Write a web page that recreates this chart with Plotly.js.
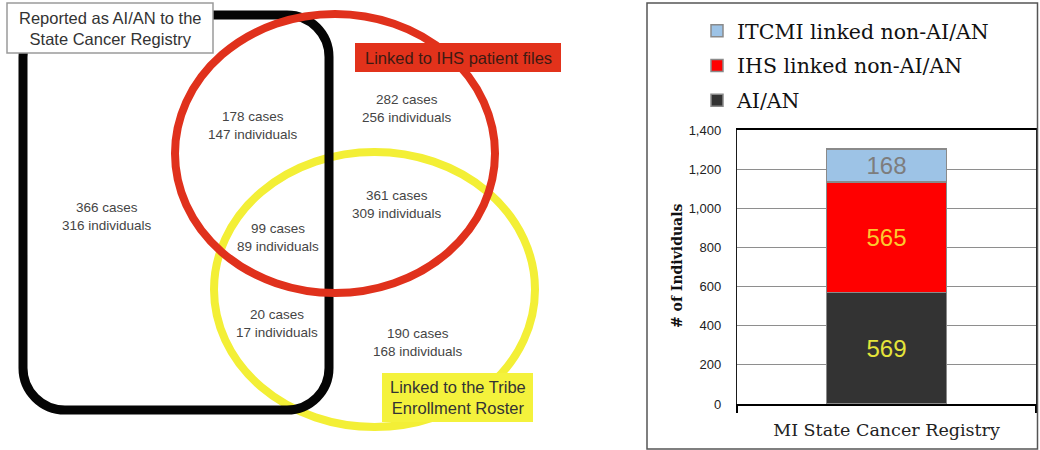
<!DOCTYPE html>
<html>
<head>
<meta charset="utf-8">
<script src="https://cdn.plot.ly/plotly-3.0.1.min.js"></script>
<style>
  html, body { margin: 0; padding: 0; background: #ffffff; }
  #chart { width: 1040px; height: 450px; }
</style>
</head>
<body>
<div id="chart"></div>
<script>
// ---- Stacked bar: individuals in the MI State Cancer Registry ----
const barCategory = ['MI State Cancer Registry'];
const seriesNames = ['AI/AN', 'IHS linked non-AI/AN', 'ITCMI linked non-AI/AN'];
const aianValues = [569];
const ihsValues = [565];
const itcmiValues = [168];
const yTickValues = [0, 200, 400, 600, 800, 1000, 1200, 1400];

// ---- Venn regions: cases and individuals per overlap ----
const regionCases = [366, 178, 282, 99, 361, 20, 190];
const regionIndividuals = [316, 147, 256, 89, 309, 17, 168];
const setLabels = [
  'Reported as AI/AN to the<br>State Cancer Registry',
  'Linked to IHS patient files',
  'Linked to the Tribe<br>Enrollment Roster'
];

// Layout helpers: page pixels -> paper fractions (margins are zero)
const W = 1040, H = 450;
const px = x => x / W;
const py = y => 1 - y / H;

// Where each region's label sits inside the diagram (diagram pixel units)
const regionAnchors = [[107, 216], [253, 125], [407, 108], [278, 237], [397, 204], [277, 323], [418, 342]];

const serif = 'DejaVu Serif, serif';
const sans = 'Liberation Sans, Arial, sans-serif';

const barStyles = [
  { fill: '#333333', text: '#e4e43a' },
  { fill: '#ff0000', text: '#fbc92e' },
  { fill: '#9dc3e6', text: '#7d7d7d' }
];
const barValues = [aianValues, ihsValues, itcmiValues];

const traces = barValues.map((vals, i) => ({
  type: 'bar',
  name: seriesNames[i],
  legendgroup: 'g' + i,
  legendrank: 10 - i,          // top segment listed first
  x: barCategory,
  y: vals,
  width: 0.4,
  marker: { color: barStyles[i].fill, line: { color: '#8a8a8a', width: 1.5 } },
  texttemplate: '%{y}',
  textposition: 'inside',
  insidetextanchor: 'middle',
  constraintext: 'none',
  textfont: { family: sans, size: 24, color: barStyles[i].text },
  hoverinfo: 'skip',
  xaxis: 'x',
  yaxis: 'y'
}));

// Invisible anchor trace so the diagram subplot exists
traces.push({
  type: 'scatter', mode: 'markers', x: [0], y: [0],
  marker: { opacity: 0 }, showlegend: false, hoverinfo: 'skip',
  xaxis: 'x2', yaxis: 'y2'
});

// Rounded registry box as a cubic-bezier path
function roundedRect(x0, y0, x1, y1, r) {
  const k = 0.5523 * r;
  return [
    'M', x0 + r, y0,
    'L', x1 - r, y0,
    'C', x1 - r + k, y0, x1, y0 + r - k, x1, y0 + r,
    'L', x1, y1 - r,
    'C', x1, y1 - r + k, x1 - r + k, y1, x1 - r, y1,
    'L', x0 + r, y1,
    'C', x0 + r - k, y1, x0, y1 - r + k, x0, y1 - r,
    'L', x0, y0 + r,
    'C', x0, y0 + r - k, x0 + r - k, y0, x0 + r, y0,
    'Z'
  ].join(' ');
}

const d = { xref: 'x2', yref: 'y2' };
const shapes = [
  Object.assign({ type: 'circle', x0: 214, x1: 535, y0: 152, y1: 427,
    line: { color: '#f3ef36', width: 8 } }, d),
  Object.assign({ type: 'path', path: roundedRect(23, 15, 329, 410, 42),
    line: { color: '#050505', width: 9 } }, d),
  Object.assign({ type: 'circle', x0: 175, x1: 495, y0: 14, y1: 293,
    line: { color: '#e0311c', width: 8 } }, d),
  // set label boxes
  Object.assign({ type: 'rect', x0: 7, x1: 213, y0: 3, y1: 53,
    fillcolor: '#ffffff', line: { color: '#9a9a9a', width: 1.5 } }, d),
  Object.assign({ type: 'rect', x0: 355, x1: 561, y0: 43, y1: 72,
    fillcolor: '#e2321b', line: { width: 0 } }, d),
  Object.assign({ type: 'rect', x0: 382, x1: 533, y0: 373, y1: 422,
    fillcolor: '#f4f23c', line: { width: 0 } }, d),
  // frame around the bar chart
  { type: 'rect', xref: 'paper', yref: 'paper',
    x0: px(647), x1: px(1037.5), y0: py(449), y1: py(3),
    line: { color: '#555555', width: 1.5 } }
];

const annotations = [];
regionCases.forEach((c, i) => {
  annotations.push(Object.assign({
    x: regionAnchors[i][0], y: regionAnchors[i][1],
    text: c + ' cases<br>' + regionIndividuals[i] + ' individuals',
    showarrow: false, xanchor: 'center', yanchor: 'middle',
    font: { family: sans, size: 13.5, color: '#454545' }
  }, d));
});
const setLabelPos = [[110, 28], [458, 57.5], [457.5, 397]];
const setLabelColors = ['#333333', '#3d1a12', '#333333'];
setLabels.forEach((t, i) => {
  annotations.push(Object.assign({
    x: setLabelPos[i][0], y: setLabelPos[i][1], text: t,
    showarrow: false, xanchor: 'center', yanchor: 'middle',
    font: { family: sans, size: 16.5, color: setLabelColors[i] }
  }, d));
});
// y-axis title of the bar chart
annotations.push({
  xref: 'paper', yref: 'paper', x: px(677), y: py(266),
  text: '<b># of Individuals</b>', textangle: -90, showarrow: false,
  xanchor: 'center', yanchor: 'middle',
  font: { family: serif, size: 14, color: '#111111' }
});

const layout = {
  width: W, height: H,
  margin: { l: 0, r: 0, t: 0, b: 0, pad: 0 },
  paper_bgcolor: '#ffffff',
  plot_bgcolor: '#ffffff',
  barmode: 'stack',
  showlegend: true,
  legend: {
    x: px(697), y: py(11), xanchor: 'left', yanchor: 'top',
    traceorder: 'grouped', tracegroupgap: 5,
    bgcolor: 'rgba(0,0,0,0)',
    font: { family: serif, size: 20.5, color: '#111111' }
  },
  xaxis: {
    domain: [px(737), px(1036)],
    type: 'category',
    range: [-0.5, 0.5],
    tickson: 'boundaries',
    ticks: 'outside', ticklen: 7, tickwidth: 1.2, tickcolor: '#000000',
    showline: true, linecolor: '#000000', linewidth: 2, mirror: true,
    showgrid: false, zeroline: false,
    ticklabelstandoff: 9,
    tickfont: { family: serif, size: 17.5, color: '#222222' },
    fixedrange: true
  },
  yaxis: {
    domain: [py(404), py(130)],
    range: [0, 1400],
    tickvals: yTickValues,
    tickformat: ',d',
    ticks: '', ticklabelstandoff: 12,
    showgrid: true, gridcolor: '#8e8e8e', gridwidth: 1.2,
    showline: true, linecolor: '#1a1a1a', linewidth: 1.2, mirror: true,
    zeroline: false,
    tickfont: { family: sans, size: 13, color: '#222222' },
    fixedrange: true
  },
  xaxis2: {
    domain: [0, px(620)], range: [0, 620], anchor: 'y2',
    visible: false, fixedrange: true
  },
  yaxis2: {
    domain: [0, 1], range: [450, 0], anchor: 'x2',
    visible: false, fixedrange: true
  },
  shapes: shapes,
  annotations: annotations
};

Plotly.newPlot('chart', traces, layout, { displayModeBar: false, staticPlot: true });
</script>
</body>
</html>
